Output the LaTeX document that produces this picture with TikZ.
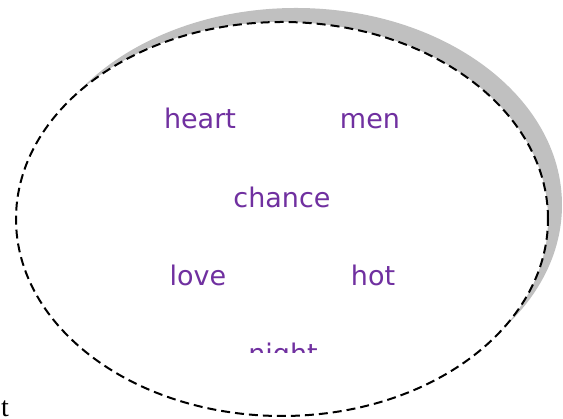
\documentclass[tikz,border=0pt]{standalone}
\usepackage{fontspec}
\newfontfamily\wordfont{DejaVu Sans}
\newfontfamily\tailfont{Liberation Serif}
\usetikzlibrary{shapes.geometric}
\definecolor{cWord}{RGB}{112,48,160}
\definecolor{cShadow}{RGB}{192,192,192}
\tikzset{
	cloud/.style ={ellipse, minimum width=532pt, minimum height=394pt, inner sep=0pt},
	edgeline/.style={draw=black, line width=2pt, dash pattern=on 9pt off 5pt},
	word/.style  ={font=\wordfont\fontsize{27}{32}\selectfont, text=cWord, inner sep=0pt, anchor=base},
}

\begin{document}
\begin{tikzpicture}[x=1pt, y=1pt]
	\useasboundingbox (0,0) rectangle (563,419);
	% ---------------- cloud ----------------
	\node[cloud, fill=cShadow] (shadow) at (296,214) {};
	\node[cloud, edgeline, fill=white] (cloud) at (282,200) {};
	% ---------------- words ----------------
	\node[word] (heart)  at (200,290) {heart};
	\node[word] (men)    at (370,290) {men};
	\node[word] (chance) at (282,211) {chance};
	\node[word] (love)   at (198,133) {love};
	\node[word] (hot)    at (373,133) {hot};
	\begin{scope}
		\clip (0,66) rectangle (563,419);
		\node[word] (night) at (283,55) {night};
	\end{scope}
	% ---------------- stray letter ----------------
	\node[font=\tailfont\fontsize{28}{32}\selectfont, inner sep=0pt, anchor=base west] (tail) at (1,2) {t};
\end{tikzpicture}
\end{document}
